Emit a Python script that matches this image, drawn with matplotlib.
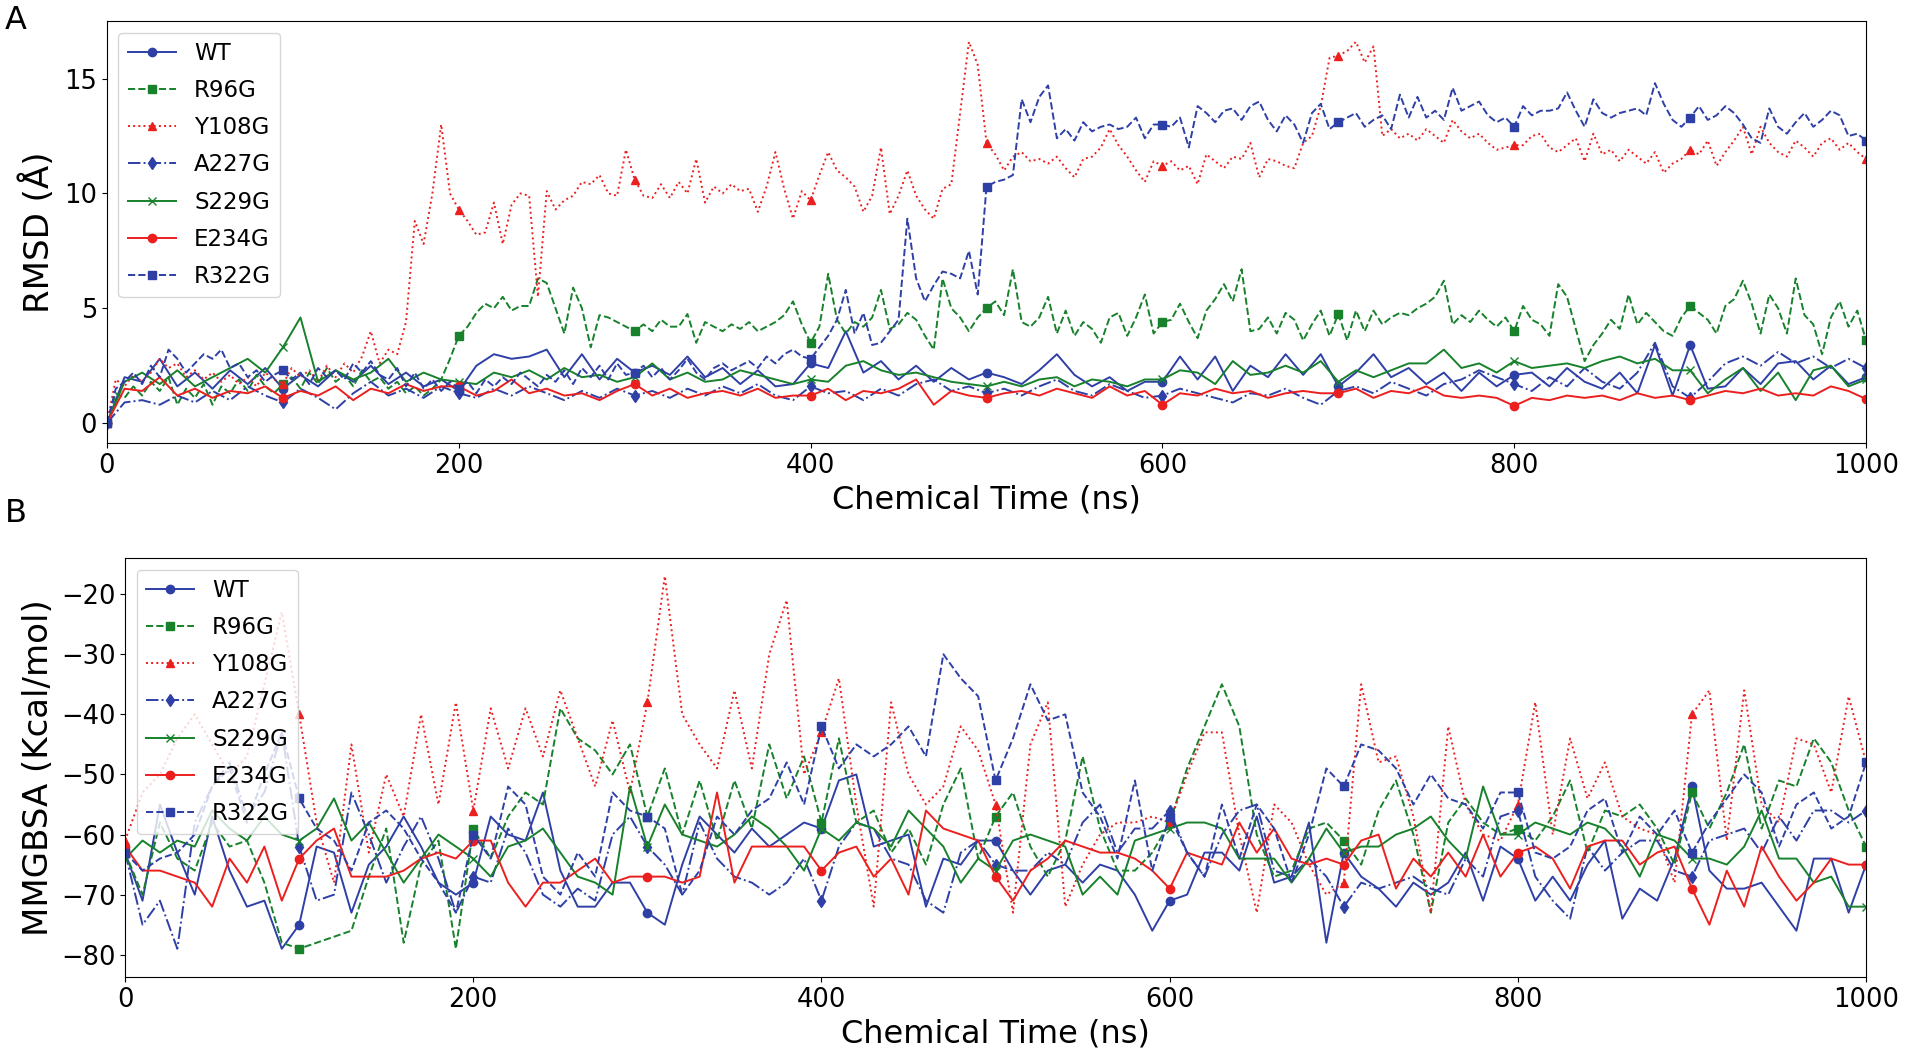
import matplotlib.pyplot as plt
import numpy as np

# sample times (ns): the three fast-moving RMSD traces are read every 5 ns, the rest every 10 ns
time_fine = np.arange(0, 1001, 5)
time_coarse = np.arange(0, 1001, 10)

mutants = ["WT", "R96G", "Y108G", "A227G", "S229G", "E234G", "R322G"]

# ---- panel A: RMSD (Angstrom) ----
rmsd_y108g = [
    0.0, 1.9, 1.6, 2.1, 1.8, 2.2, 2.8, 2.4, 2.6, 2.0, 2.3, 1.9, 2.2, 1.8, 2.1, 1.7, 2.0, 1.6, 2.2, 1.9,
    1.7, 2.4, 2.0, 2.3, 1.8, 2.5, 2.0, 2.6, 2.2, 2.9, 4.0, 2.6, 3.2, 3.0, 4.4, 8.8, 7.8, 10.0, 13.0, 10.0,
    9.3, 8.8, 8.2, 8.3, 9.6, 7.8, 9.5, 10.0, 9.9, 5.5, 10.1, 9.3, 9.7, 9.9, 10.5, 10.4, 10.8, 10.0, 9.9, 11.9,
    10.6, 9.9, 9.8, 10.4, 9.8, 10.5, 10.0, 11.5, 9.6, 10.3, 10.0, 10.4, 10.1, 10.2, 9.2, 10.3, 11.8, 10.2, 8.9, 10.1,
    9.7, 10.8, 11.8, 11.0, 10.7, 10.3, 9.2, 9.9, 12.0, 9.1, 9.9, 11.0, 9.9, 9.3, 8.9, 10.2, 10.4, 13.5, 16.6, 15.6,
    12.2, 11.7, 11.0, 11.6, 11.8, 11.4, 11.5, 11.3, 11.6, 11.1, 10.7, 11.5, 11.6, 12.0, 12.8, 12.1, 11.6, 11.0, 10.5, 11.4,
    11.2, 11.4, 11.0, 11.2, 10.4, 11.7, 11.4, 11.1, 11.6, 11.5, 12.2, 10.7, 11.5, 11.4, 11.2, 11.1, 12.2, 12.5, 13.8, 15.9,
    16.0, 16.2, 16.6, 15.7, 16.4, 12.5, 12.8, 12.4, 12.6, 12.3, 12.8, 12.5, 12.2, 13.2, 12.7, 12.4, 12.6, 12.2, 11.9, 12.0,
    12.1, 12.1, 12.5, 12.6, 12.0, 11.8, 12.1, 12.4, 11.4, 12.6, 11.7, 11.9, 11.4, 11.9, 11.6, 11.3, 11.8, 10.9, 11.3, 11.5,
    11.9, 11.7, 12.3, 11.2, 11.8, 12.3, 12.9, 11.7, 12.9, 12.2, 11.8, 11.6, 12.3, 12.0, 11.6, 12.2, 12.4, 11.9, 12.2, 11.8,
    11.5]
rmsd_r322g = [
    0.0, 1.5, 1.8, 2.2, 1.7, 2.5, 2.0, 3.2, 2.8, 2.2, 2.6, 3.0, 2.8, 3.2, 2.4, 2.6, 2.0, 2.3, 1.8, 2.1,
    2.3, 1.9, 2.2, 1.7, 2.4, 2.0, 2.3, 1.9, 2.6, 2.2, 2.7, 2.1, 1.9, 2.4, 1.6, 2.2, 1.5, 1.9, 1.4, 1.8,
    1.5, 1.8, 1.3, 1.9, 1.6, 2.0, 1.7, 2.2, 1.9, 1.6, 2.1, 1.8, 2.3, 1.7, 2.4, 2.0, 2.5, 1.9, 2.6, 2.1,
    2.2, 2.5, 2.0, 2.4, 1.9, 2.3, 2.8, 2.2, 1.9, 2.4, 2.6, 2.3, 2.5, 2.7, 2.4, 2.9, 2.6, 3.0, 3.2, 2.9,
    2.8, 3.3, 3.8, 4.5, 5.8, 3.9, 4.8, 3.4, 3.5, 4.0, 4.5, 8.9, 6.3, 5.3, 6.0, 6.6, 6.5, 6.3, 7.5, 5.6,
    10.3, 10.5, 10.6, 10.8, 14.1, 13.1, 14.2, 14.7, 12.4, 12.8, 12.3, 13.1, 12.7, 12.9, 13.0, 12.8, 12.9, 13.3, 12.4, 13.0,
    13.0, 12.9, 13.3, 12.0, 13.8, 13.5, 13.1, 13.6, 13.7, 13.2, 13.8, 14.0, 13.2, 12.7, 13.4, 13.0, 12.2, 13.5, 13.9, 12.8,
    13.1, 13.3, 13.5, 12.9, 13.2, 13.4, 12.8, 14.3, 13.3, 14.2, 13.3, 13.6, 13.2, 14.6, 13.6, 13.8, 14.0, 13.4, 13.1, 13.3,
    12.9, 13.8, 13.4, 13.6, 13.6, 13.7, 14.4, 13.6, 12.9, 14.1, 13.5, 13.3, 13.5, 13.6, 13.7, 13.4, 14.8, 13.9, 13.2, 12.9,
    13.3, 13.8, 13.2, 13.4, 13.8, 13.5, 13.0, 12.4, 12.2, 13.7, 12.9, 12.6, 13.1, 13.5, 12.9, 13.2, 13.6, 13.4, 12.5, 12.6,
    12.3]
rmsd_r96g = [
    0.0, 1.3, 1.1, 1.6, 1.2, 1.8, 1.4, 2.0, 0.8, 1.5, 1.1, 1.7, 0.8, 1.6, 1.3, 1.9, 1.4, 2.1, 1.6, 1.3,
    1.7, 2.0, 1.5, 2.2, 1.7, 2.4, 1.8, 2.1, 1.6, 2.3, 1.8, 2.0, 1.5, 1.8, 1.3, 1.6, 1.2, 1.5, 1.9, 2.8,
    3.8, 4.2, 4.8, 5.2, 5.0, 5.5, 4.9, 5.1, 5.1, 6.3, 6.1, 5.0, 3.9, 5.9, 5.0, 3.3, 4.7, 4.6, 4.4, 4.2,
    4.0, 4.3, 4.0, 4.5, 4.2, 4.2, 4.75, 3.5, 4.4, 4.2, 4.0, 4.3, 4.1, 4.4, 4.0, 4.2, 4.4, 4.7, 5.3, 4.3,
    3.5, 4.2, 6.5, 4.5, 3.9, 4.4, 4.2, 4.6, 5.8, 4.1, 4.3, 4.8, 4.5, 3.8, 3.2, 6.3, 5.0, 4.6, 4.0, 4.6,
    5.0, 5.3, 4.7, 6.7, 4.4, 4.2, 4.6, 5.5, 3.9, 4.9, 3.8, 4.4, 4.1, 3.5, 4.6, 4.8, 3.8, 4.6, 5.6, 3.9,
    4.4, 4.5, 5.2, 4.4, 3.7, 4.9, 5.4, 6.05, 5.3, 6.7, 4.0, 4.1, 4.6, 3.9, 4.8, 4.5, 3.6, 4.3, 4.9, 3.8,
    4.75, 3.6, 4.9, 4.0, 4.9, 4.3, 4.6, 4.8, 4.7, 5.0, 5.2, 5.5, 6.2, 4.3, 4.7, 4.4, 4.9, 4.5, 4.2, 4.6,
    4.0, 5.1, 4.5, 4.3, 3.8, 6.05, 5.5, 4.1, 2.7, 3.4, 3.9, 4.5, 4.1, 5.6, 4.3, 4.8, 4.4, 4.0, 3.8, 4.6,
    5.1, 4.8, 4.5, 3.9, 5.1, 5.4, 6.2, 5.2, 3.9, 5.6, 5.0, 3.9, 6.3, 4.7, 4.3, 3.0, 4.6, 5.3, 4.2, 4.9,
    3.6]
rmsd_wt = [
    0.0, 2.0, 1.8, 2.8, 1.6, 2.2, 1.5, 2.3, 1.7, 2.4,
    1.5, 2.1, 1.6, 2.3, 1.8, 2.5, 1.7, 2.2, 1.6, 1.9,
    1.4, 2.5, 3.0, 2.8, 2.9, 3.2, 2.0, 3.0, 1.9, 2.8,
    2.2, 2.5, 2.1, 2.9, 2.0, 2.4, 1.7, 2.3, 1.6, 1.7,
    2.6, 2.4, 4.0, 2.2, 2.7, 1.9, 2.5, 1.8, 2.4, 1.9,
    2.2, 2.0, 1.7, 2.3, 3.0, 2.1, 1.6, 2.0, 1.4, 1.8,
    1.8, 2.9, 1.9, 2.9, 1.4, 2.5, 2.0, 3.0, 2.1, 3.0,
    1.6, 2.2, 3.0, 2.0, 2.4, 1.7, 2.2, 1.4, 2.2, 1.6,
    2.1, 2.2, 1.6, 2.4, 1.8, 1.5, 2.2, 1.3, 3.4, 1.2,
    3.4, 1.5, 1.6, 2.4, 1.7, 2.6, 2.7, 1.9, 2.5, 1.7,
    2.0]
rmsd_a227g = [
    0.0, 0.9, 1.0, 0.8, 1.2, 0.9, 1.4, 1.0, 1.6, 1.2,
    0.9, 1.5, 1.1, 0.6, 1.3, 1.8, 1.2, 1.5, 1.1, 1.6,
    1.3, 1.1, 1.5, 1.2, 1.6, 1.3, 1.0, 1.4, 1.1, 1.5,
    1.2, 1.4, 1.1, 1.5, 1.2, 1.6, 1.3, 1.7, 1.2, 1.0,
    1.6, 1.3, 1.4, 1.0, 1.5, 1.2, 1.7, 1.9, 1.4, 1.6,
    1.3, 1.5, 1.2, 1.6, 1.9, 1.4, 1.2, 1.7, 1.4, 1.1,
    1.2, 1.5, 1.3, 1.1, 0.9, 1.3, 1.2, 1.5, 1.1, 0.8,
    1.4, 1.6, 1.3, 1.8, 1.5, 1.2, 1.7, 1.9, 2.3, 2.0,
    1.7, 1.4, 2.0, 1.6, 2.4, 1.8, 1.5, 2.2, 3.5, 1.6,
    1.1, 1.8, 2.6, 2.9, 2.5, 3.1, 2.6, 2.9, 2.4, 2.8,
    2.4]
rmsd_s229g = [
    0.0, 1.8, 2.2, 1.7, 2.3, 1.6, 2.0, 2.4, 2.8, 2.2,
    3.3, 4.6, 1.8, 2.3, 1.9, 2.2, 2.8, 1.8, 2.2, 1.9,
    1.8, 1.7, 2.2, 2.0, 2.3, 1.9, 2.4, 2.0, 2.1, 1.8,
    2.0, 2.6, 1.9, 2.2, 1.8, 1.9, 2.3, 2.1, 1.9, 1.7,
    1.9, 1.8, 2.5, 2.7, 2.3, 2.1, 2.2, 2.0, 1.8, 1.7,
    1.6, 1.8, 1.6, 1.9, 2.0, 1.6, 1.9, 1.8, 1.6, 1.9,
    1.9, 2.3, 2.2, 1.7, 2.7, 2.1, 2.2, 2.5, 2.2, 2.7,
    1.8, 2.3, 2.0, 2.3, 2.6, 2.6, 3.2, 2.4, 2.6, 2.2,
    2.7, 2.4, 2.5, 2.6, 2.4, 2.7, 2.9, 2.6, 2.8, 2.3,
    2.3, 1.3, 1.9, 2.4, 1.4, 2.2, 1.0, 2.3, 2.5, 1.6,
    1.9]
rmsd_e234g = [
    0.0, 1.5, 1.4, 2.0, 1.2, 1.5, 1.1, 1.4, 1.3, 1.6,
    1.1, 1.4, 1.2, 1.6, 1.0, 1.5, 1.3, 1.7, 1.4, 1.6,
    1.6, 1.2, 1.4, 1.9, 1.3, 1.5, 1.2, 1.3, 1.0, 1.4,
    1.7, 1.2, 1.5, 1.1, 1.3, 1.4, 1.2, 1.5, 1.1, 1.2,
    1.2, 1.5, 1.0, 1.4, 1.3, 1.5, 1.9, 0.8, 1.4, 1.2,
    1.1, 1.3, 1.4, 1.2, 1.5, 1.3, 1.1, 1.6, 1.2, 1.4,
    0.8, 1.3, 1.2, 1.5, 1.3, 1.4, 1.1, 1.3, 1.4, 1.3,
    1.3, 1.5, 1.1, 1.4, 1.3, 1.6, 1.2, 1.1, 1.2, 1.1,
    0.75, 1.1, 1.0, 1.2, 1.1, 1.2, 1.0, 1.3, 1.1, 1.2,
    1.0, 1.2, 1.4, 1.3, 1.5, 1.2, 1.3, 1.2, 1.6, 1.4,
    1.05]

# ---- panel B: MMGBSA (kcal/mol), every 10 ns ----
mmgbsa_wt = [
    -63, -71, -55, -63, -70, -57, -66, -72, -71, -79,
    -75, -62, -63, -73, -65, -62, -57, -62, -68, -70,
    -68, -57, -60, -61, -53, -66, -72, -72, -68, -68,
    -73, -75, -65, -57, -60, -63, -59, -62, -60, -58,
    -59, -51, -50, -62, -61, -60, -72, -64, -65, -61,
    -61, -66, -70, -66, -65, -68, -65, -66, -70, -76,
    -71, -70, -63, -63, -66, -57, -68, -67, -58, -78,
    -63, -67, -69, -72, -68, -70, -68, -63, -71, -62,
    -64, -71, -67, -71, -65, -61, -74, -69, -71, -64,
    -52, -66, -69, -69, -68, -72, -76, -64, -64, -73,
    -65]
mmgbsa_r96g = [
    -63, -70, -58, -64, -66, -58, -62, -61, -68, -78,
    -79, -78, -77, -76, -67, -59, -78, -65, -61, -79,
    -59, -64, -57, -53, -55, -39, -44, -46, -50, -45,
    -57, -49, -60, -51, -61, -51, -59, -45, -54, -47,
    -58, -44, -58, -56, -63, -59, -65, -55, -49, -64,
    -57, -53, -62, -67, -61, -47, -59, -66, -66, -63,
    -58, -49, -42, -35, -42, -60, -67, -66, -59, -58,
    -61, -65, -56, -51, -60, -73, -58, -54, -58, -60,
    -59, -61, -57, -51, -63, -56, -57, -55, -59, -65,
    -53, -59, -53, -45, -59, -51, -52, -44, -48, -56,
    -62]
mmgbsa_y108g = [
    -61, -53, -50, -44, -40, -45, -50, -47, -35, -23,
    -40, -58, -68, -45, -63, -50, -57, -40, -55, -38,
    -56, -39, -49, -39, -47, -36, -44, -52, -41, -53,
    -38, -17, -40, -45, -49, -36, -49, -30, -21, -50,
    -43, -34, -55, -72, -38, -50, -55, -52, -42, -46,
    -55, -73, -45, -38, -72, -65, -60, -58, -58, -57,
    -58, -50, -43, -43, -60, -73, -55, -58, -65, -70,
    -68, -35, -48, -47, -57, -73, -42, -55, -60, -61,
    -55, -38, -60, -44, -54, -48, -57, -59, -60, -68,
    -40, -36, -61, -36, -55, -58, -44, -45, -53, -37,
    -48]
mmgbsa_a227g = [
    -63, -75, -71, -79, -58, -52, -48, -57, -53, -43,
    -62, -71, -70, -53, -60, -68, -62, -57, -64, -73,
    -67, -68, -59, -63, -70, -72, -69, -71, -60, -57,
    -62, -65, -70, -58, -64, -67, -68, -70, -68, -64,
    -71, -62, -58, -59, -64, -65, -71, -73, -63, -61,
    -65, -66, -66, -63, -65, -58, -55, -63, -59, -59,
    -56, -63, -67, -60, -56, -55, -66, -67, -64, -67,
    -72, -68, -69, -68, -67, -69, -70, -64, -67, -57,
    -56, -67, -71, -74, -62, -66, -63, -61, -61, -66,
    -67, -61, -60, -59, -63, -57, -61, -56, -56, -58,
    -56]
mmgbsa_s229g = [
    -64, -61, -63, -61, -62, -56, -59, -61, -57, -60,
    -61, -59, -54, -61, -58, -63, -68, -64, -60, -62,
    -64, -67, -62, -61, -59, -63, -67, -68, -70, -52,
    -62, -55, -60, -61, -62, -60, -57, -59, -62, -66,
    -59, -61, -58, -59, -62, -56, -59, -62, -68, -64,
    -66, -61, -60, -61, -62, -70, -67, -70, -61, -60,
    -59, -58, -58, -59, -64, -64, -64, -68, -64, -59,
    -63, -62, -62, -60, -59, -57, -61, -64, -52, -60,
    -60, -58, -59, -60, -58, -59, -62, -67, -60, -61,
    -64, -64, -65, -62, -56, -64, -64, -68, -67, -72,
    -72]
mmgbsa_e234g = [
    -62, -66, -66, -67, -68, -72, -64, -68, -62, -71,
    -64, -61, -59, -67, -67, -67, -66, -64, -63, -64,
    -61, -61, -68, -72, -68, -68, -66, -64, -68, -67,
    -67, -67, -68, -67, -53, -68, -62, -62, -62, -62,
    -66, -63, -62, -67, -64, -70, -56, -59, -60, -61,
    -67, -71, -66, -64, -61, -62, -63, -63, -64, -66,
    -69, -63, -64, -65, -58, -63, -59, -64, -65, -64,
    -65, -61, -60, -69, -64, -67, -63, -67, -60, -67,
    -63, -62, -64, -69, -62, -61, -61, -65, -63, -62,
    -69, -75, -66, -72, -62, -67, -71, -68, -64, -65,
    -65]
mmgbsa_r322g = [
    -63, -66, -64, -63, -60, -52, -49, -58, -50, -43,
    -54, -59, -61, -66, -58, -56, -59, -64, -68, -73,
    -60, -64, -52, -55, -67, -70, -63, -67, -53, -56,
    -57, -59, -70, -66, -57, -60, -56, -54, -48, -55,
    -42, -49, -45, -47, -45, -42, -47, -30, -34, -37,
    -51, -44, -35, -41, -40, -53, -57, -64, -51, -66,
    -57, -63, -67, -55, -64, -55, -59, -68, -60, -49,
    -52, -45, -46, -49, -55, -50, -54, -55, -59, -53,
    -53, -63, -64, -62, -56, -54, -63, -57, -60, -56,
    -63, -58, -54, -50, -53, -62, -55, -53, -59, -57,
    -48]

blue = "#2E3FA6"
green = "#17812B"
red = "#EC1F1F"

# colour, line style, marker for each mutant
styles = {
    "WT": (blue, "-", "o"),
    "R96G": (green, "--", "s"),
    "Y108G": (red, ":", "^"),
    "A227G": (blue, "-.", "d"),
    "S229G": (green, "-", "x"),
    "E234G": (red, "-", "o"),
    "R322G": (blue, "--", "s"),
}

rmsd = {
    "WT": (time_coarse, rmsd_wt),
    "R96G": (time_fine, rmsd_r96g),
    "Y108G": (time_fine, rmsd_y108g),
    "A227G": (time_coarse, rmsd_a227g),
    "S229G": (time_coarse, rmsd_s229g),
    "E234G": (time_coarse, rmsd_e234g),
    "R322G": (time_fine, rmsd_r322g),
}
mmgbsa = {
    "WT": mmgbsa_wt,
    "R96G": mmgbsa_r96g,
    "Y108G": mmgbsa_y108g,
    "A227G": mmgbsa_a227g,
    "S229G": mmgbsa_s229g,
    "E234G": mmgbsa_e234g,
    "R322G": mmgbsa_r322g,
}

fig = plt.figure(figsize=(19.1, 10.57), dpi=100)
ax1 = fig.add_axes([0.056, 0.581, 0.921, 0.399])
ax2 = fig.add_axes([0.0655, 0.0757, 0.9115, 0.3963])

for name in mutants:
    color, ls, marker = styles[name]
    t, vals = rmsd[name]
    every = 20 if len(t) > 101 else 10
    ax1.plot(t, vals, color=color, linestyle=ls, marker=marker, markevery=every,
             markersize=6, linewidth=1.4, label=name)
    ax2.plot(time_coarse, mmgbsa[name], color=color, linestyle=ls, marker=marker,
             markevery=10, markersize=6, linewidth=1.4, label=name)

legend_kw = dict(loc="upper left", fontsize=16.5, handlelength=2.1, labelspacing=0.62)

# panel A formatting
ax1.set_xlim(0, 1000)
ax1.set_ylim(-0.86, 17.5)
ax1.set_yticks([0, 5, 10, 15])
ax1.set_xticks([0, 200, 400, 600, 800, 1000])
ax1.set_xlabel("Chemical Time (ns)", fontsize=23, labelpad=4)
ax1.set_ylabel("RMSD (Å)", fontsize=24.5, labelpad=6)
ax1.tick_params(labelsize=18.5)
ax1.legend(**legend_kw)

# panel B formatting
ax2.set_xlim(0, 1000)
ax2.set_ylim(-83.7, -14.0)
ax2.set_yticks([-80, -70, -60, -50, -40, -30, -20])
ax2.set_xticks([0, 200, 400, 600, 800, 1000])
ax2.set_xlabel("Chemical Time (ns)", fontsize=23, labelpad=4)
ax2.set_ylabel("MMGBSA (Kcal/mol)", fontsize=24.5, labelpad=4)
ax2.tick_params(labelsize=18.5)
ax2.legend(**legend_kw)

fig.text(5 / 1910, 1 - 5 / 1057, "A", fontsize=23, va="top", ha="left")
fig.text(5 / 1910, 1 - 498 / 1057, "B", fontsize=23, va="top", ha="left")

fig.savefig("out.png", dpi=100)
